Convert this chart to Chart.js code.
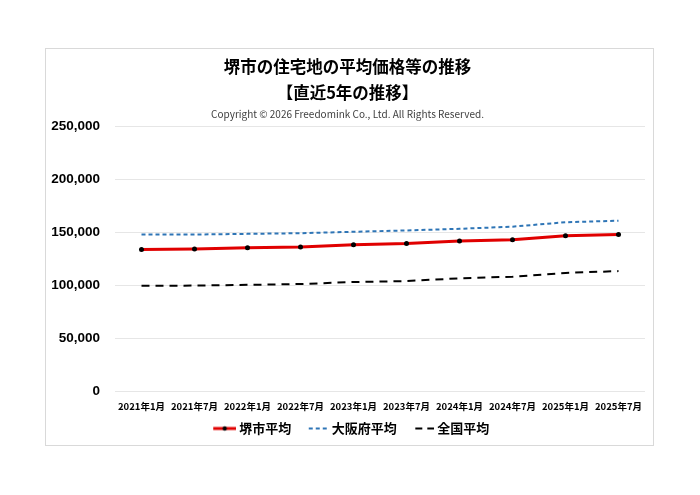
<!DOCTYPE html>
<html>
<head>
<meta charset="utf-8">
<script src="https://cdn.jsdelivr.net/npm/chart.js@4"></script>
<style>
  html, body { margin: 0; padding: 0; background: #fff; }
  #card {
    position: absolute; left: 45px; top: 48px;
    width: 607px; height: 396px;
    border: 1px solid #d9d9d9; background: #fff;
  }
</style>
</head>
<body>
<div id="card"><canvas id="myChart"></canvas></div>
<script>
const labels = ['2021年1月', '2021年7月', '2022年1月', '2022年7月', '2023年1月',
  '2023年7月', '2024年1月', '2024年7月', '2025年1月', '2025年7月'];
const sakaiAvg = [133800, 134100, 135400, 136000, 138300, 139400, 141700, 143000, 146800, 147800];
const osakaAvg = [147900, 147900, 148500, 149100, 150500, 151700, 153300, 155300, 159500, 160900];
const nationalAvg = [99400, 99600, 100300, 101100, 103000, 103900, 106500, 108000, 111600, 113300];
const yTicks = [0, 50000, 100000, 150000, 200000, 250000];

const jpFont = "'Noto Sans CJK JP', 'Noto Sans', sans-serif";

// 凡例用アイコン (右寄せで描く)
const ICON_BOX = 27;
const ICON_IMG = ICON_BOX + 7;
function legendIcon(color, dash, width, iconW, withDot) {
  const c = document.createElement('canvas');
  c.width = ICON_IMG; c.height = 10;
  const ctx = c.getContext('2d');
  const x0 = ICON_IMG - iconW;
  ctx.strokeStyle = color;
  ctx.lineWidth = width;
  ctx.setLineDash(dash);
  ctx.beginPath();
  ctx.moveTo(x0, 5);
  ctx.lineTo(ICON_IMG, 5);
  ctx.stroke();
  if (withDot) {
    ctx.fillStyle = '#000';
    ctx.beginPath();
    ctx.arc(x0 + iconW / 2, 5, 2.2, 0, Math.PI * 2);
    ctx.fill();
  }
  return c;
}

const icons = [
  legendIcon('#e00000', [], 3, 23, true),
  legendIcon('#2e75b6', [4, 3], 2, 20, false),
  legendIcon('#000000', [7, 5], 2, 19, false),
];

new Chart(document.getElementById('myChart'), {
  type: 'line',
  data: {
    labels: labels,
    datasets: [
      {
        label: '堺市平均',
        data: sakaiAvg,
        borderColor: '#e00000',
        borderWidth: 3,
        pointRadius: 2.5,
        pointBackgroundColor: '#000',
        pointBorderColor: '#000',
        pointBorderWidth: 0,
        tension: 0,
      },
      {
        label: '大阪府平均',
        data: osakaAvg,
        borderColor: '#2e75b6',
        borderWidth: 2,
        borderDash: [4, 3],
        pointRadius: 0,
        tension: 0,
      },
      {
        label: '全国平均',
        data: nationalAvg,
        borderColor: '#000',
        borderWidth: 2,
        borderDash: [8, 6],
        pointRadius: 0,
        tension: 0,
      },
    ],
  },
  options: {
    responsive: true,
    maintainAspectRatio: false,
    animation: false,
    layout: { padding: { left: 4, right: 8, top: 4, bottom: 0 } },
    plugins: {
      title: {
        display: true,
        text: ['堺市の住宅地の平均価格等の推移', '【直近5年の推移】'],
        color: '#000',
        font: { family: jpFont, size: 16.5, weight: 'bold', lineHeight: 1.62 },
        padding: { top: 0, bottom: 2 },
      },
      subtitle: {
        display: true,
        text: 'Copyright © 2026 Freedomink Co., Ltd. All Rights Reserved.',
        color: '#404040',
        font: { family: jpFont, size: 10 },
        padding: { top: 0, bottom: 6 },
      },
      legend: {
        position: 'bottom',
        labels: {
          usePointStyle: true,
          pointStyleWidth: ICON_BOX,
          color: '#000',
          font: { family: jpFont, size: 13, weight: 'bold' },
          padding: 7,
          generateLabels: (chart) =>
            chart.data.datasets.map((ds, i) => ({
              text: ds.label,
              pointStyle: icons[i],
              fontColor: '#000',
              datasetIndex: i,
              lineWidth: 0,
              hidden: false,
            })),
        },
      },
      tooltip: { enabled: false },
    },
    scales: {
      x: {
        offset: true,
        grid: { display: false, drawTicks: false },
        border: { display: false },
        afterFit: (axis) => { axis.height = 24; },
        ticks: {
          color: '#000',
          padding: 10,
          maxRotation: 0,
          autoSkip: false,
          font: { family: jpFont, size: 9.5, weight: 'bold' },
        },
      },
      y: {
        min: 0,
        max: 250000,
        afterBuildTicks: (axis) => {
          axis.ticks = yTicks.map((v) => ({ value: v }));
        },
        afterFit: (axis) => { axis.width = 65; },
        grid: { color: '#e6e6e6', drawTicks: false },
        border: { display: false },
        ticks: {
          color: '#000',
          padding: 15,
          font: { family: "'Liberation Sans', Arial, sans-serif", size: 13.5, weight: 'bold' },
          callback: (v) => v.toLocaleString('en-US'),
        },
      },
    },
  },
});
</script>
</body>
</html>
